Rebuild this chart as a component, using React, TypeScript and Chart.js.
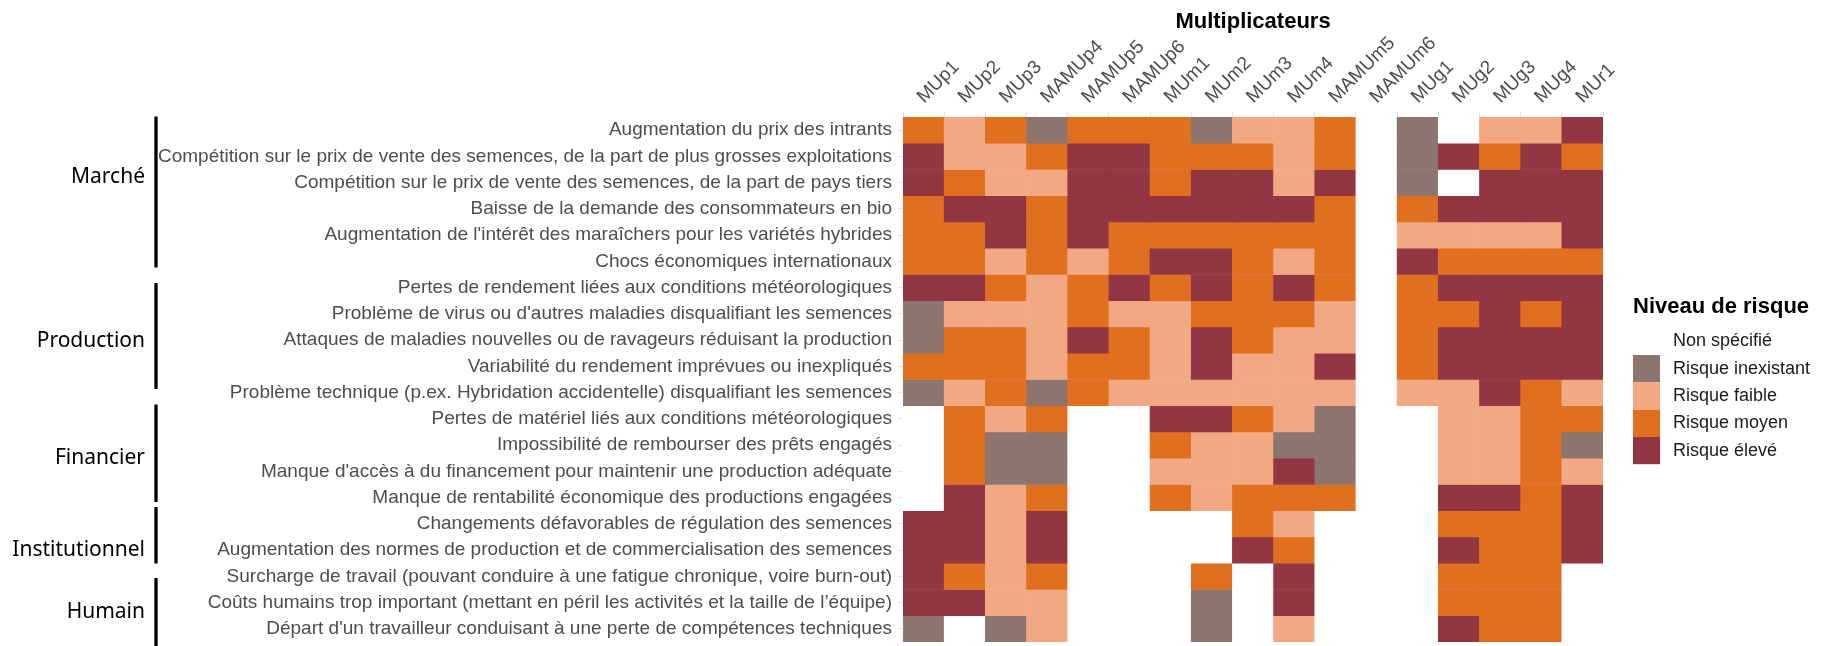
import React, { useEffect, useRef } from 'react';
import { Chart, registerables } from 'chart.js';

Chart.register(...registerables);

// ---------- DATA ----------
const columns = [
  'MUp1', 'MUp2', 'MUp3', 'MAMUp4', 'MAMUp5', 'MAMUp6',
  'MUm1', 'MUm2', 'MUm3', 'MUm4', 'MAMUm5', 'MAMUm6',
  'MUg1', 'MUg2', 'MUg3', 'MUg4', 'MUr1',
];

const riskRows = [
  'Augmentation du prix des intrants',
  'Compétition sur le prix de vente des semences, de la part de plus grosses exploitations',
  'Compétition sur le prix de vente des semences, de la part de pays tiers',
  'Baisse de la demande des consommateurs en bio',
  "Augmentation de l'intérêt des maraîchers pour les variétés hybrides",
  'Chocs économiques internationaux',
  'Pertes de rendement liées aux conditions météorologiques',
  "Problème de virus ou d'autres maladies disqualifiant les semences",
  'Attaques de maladies nouvelles ou de ravageurs réduisant la production',
  'Variabilité du rendement imprévues ou inexpliqués',
  'Problème technique (p.ex. Hybridation accidentelle) disqualifiant les semences',
  'Pertes de matériel liés aux conditions météorologiques',
  'Impossibilité de rembourser des prêts engagés',
  "Manque d'accès à du financement pour maintenir une production adéquate",
  'Manque de rentabilité économique des productions engagées',
  'Changements défavorables de régulation des semences',
  'Augmentation des normes de production et de commercialisation des semences',
  'Surcharge de travail (pouvant conduire à une fatigue chronique, voire burn-out)',
  'Coûts humains trop important (mettant en péril les activités et la taille de l’équipe)',
  "Départ d'un travailleur conduisant à une perte de compétences techniques",
];

const groupNames = ['Marché', 'Production', 'Financier', 'Institutionnel', 'Humain'];
const groupSizes = [6, 5, 4, 2, 3];

const axisTitle = 'Multiplicateurs';
const legendTitle = 'Niveau de risque';
const levelLabels = ['Non spécifié', 'Risque inexistant', 'Risque faible', 'Risque moyen', 'Risque élevé'];

// 0 = Non spécifié, 1 = inexistant, 2 = faible, 3 = moyen, 4 = élevé
const riskLevels: number[][] = [
  [3, 2, 3, 1, 3, 3, 3, 1, 2, 2, 3, 0, 1, 0, 2, 2, 4],
  [4, 2, 2, 3, 4, 4, 3, 3, 3, 2, 3, 0, 1, 4, 3, 4, 3],
  [4, 3, 2, 2, 4, 4, 3, 4, 4, 2, 4, 0, 1, 0, 4, 4, 4],
  [3, 4, 4, 3, 4, 4, 4, 4, 4, 4, 3, 0, 3, 4, 4, 4, 4],
  [3, 3, 4, 3, 4, 3, 3, 3, 3, 3, 3, 0, 2, 2, 2, 2, 4],
  [3, 3, 2, 3, 2, 3, 4, 4, 3, 2, 3, 0, 4, 3, 3, 3, 3],
  [4, 4, 3, 2, 3, 4, 3, 4, 3, 4, 3, 0, 3, 4, 4, 4, 4],
  [1, 2, 2, 2, 3, 2, 2, 3, 3, 3, 2, 0, 3, 3, 4, 3, 4],
  [1, 3, 3, 2, 4, 3, 2, 4, 3, 2, 2, 0, 3, 4, 4, 4, 4],
  [3, 3, 3, 2, 3, 3, 2, 4, 2, 2, 4, 0, 3, 4, 4, 4, 4],
  [1, 2, 3, 1, 3, 2, 2, 2, 2, 2, 2, 0, 2, 2, 4, 3, 2],
  [0, 3, 2, 3, 0, 0, 4, 4, 3, 2, 1, 0, 0, 2, 2, 3, 3],
  [0, 3, 1, 1, 0, 0, 3, 2, 2, 1, 1, 0, 0, 2, 2, 3, 1],
  [0, 3, 1, 1, 0, 0, 2, 2, 2, 4, 1, 0, 0, 2, 2, 3, 2],
  [0, 4, 2, 3, 0, 0, 3, 2, 3, 3, 3, 0, 0, 4, 4, 3, 4],
  [4, 4, 2, 4, 0, 0, 0, 0, 3, 2, 0, 0, 0, 3, 3, 3, 4],
  [4, 4, 2, 4, 0, 0, 0, 0, 4, 3, 0, 0, 0, 4, 3, 3, 4],
  [4, 3, 2, 3, 0, 0, 0, 3, 0, 4, 0, 0, 0, 3, 3, 3, 0],
  [4, 4, 2, 2, 0, 0, 0, 1, 0, 4, 0, 0, 0, 3, 3, 3, 0],
  [1, 0, 1, 2, 0, 0, 0, 1, 0, 2, 0, 0, 0, 4, 3, 3, 0],
];

// ---------- STYLE ----------
const levelColors = ['#FFFFFF', '#8C756E', '#F2A983', '#E06F1F', '#933643'];
const SANS = '"Liberation Sans", Arial, Helvetica, sans-serif';
const GROUP_FONT = '"Noto Sans", "Open Sans", sans-serif';
const W = 1821;
const H = 646;

const decor = {
  titleY: 22,
  groupTextRight: 145,
  groupLabelY: [177.5, 341, 458.5, 550, 612],
  barX: 156,
  barW: 3.3,
  bars: [[116.5, 267.5], [283, 389], [404.5, 502], [507, 563.5], [578, 646]],
  legendX: 1633,
  legendTitleY: 307,
  legendTop: 327.7,
  legendBoxW: 27,
  legendBoxH: 27.3,
  legendTextX: 1673,
};

const decorPlugin = {
  id: 'decor',
  afterDraw(chart: any) {
    const ctx = chart.ctx as CanvasRenderingContext2D;
    const area = chart.chartArea;
    ctx.save();
    // axis title
    ctx.fillStyle = '#000000';
    ctx.font = `bold 22px ${SANS}`;
    ctx.textAlign = 'center';
    ctx.textBaseline = 'middle';
    ctx.fillText(axisTitle, (area.left + area.right) / 2, decor.titleY);

    // group labels and bars (one per group of rows)
    ctx.font = `21px ${GROUP_FONT}`;
    ctx.textAlign = 'right';
    groupNames.forEach((name, i) => {
      if (!groupSizes[i]) return;
      ctx.fillStyle = '#000000';
      ctx.fillText(name, decor.groupTextRight, decor.groupLabelY[i]);
      const [y0, y1] = decor.bars[i];
      ctx.fillRect(decor.barX - decor.barW / 2, y0, decor.barW, y1 - y0);
    });

    // legend
    ctx.textAlign = 'left';
    ctx.font = `bold 22px ${SANS}`;
    ctx.fillStyle = '#000000';
    ctx.fillText(legendTitle, decor.legendX, decor.legendTitleY);
    ctx.font = `18px ${SANS}`;
    levelLabels.forEach((lab, i) => {
      const top = decor.legendTop + i * decor.legendBoxH;
      ctx.fillStyle = levelColors[i];
      ctx.fillRect(decor.legendX, top, decor.legendBoxW, decor.legendBoxH);
      ctx.fillStyle = '#1a1a1a';
      ctx.fillText(lab, decor.legendTextX, top + decor.legendBoxH / 2);
    });
    ctx.restore();
  },
};

export default function App() {
  const ref = useRef<HTMLCanvasElement>(null);

  useEffect(() => {
    const canvas = ref.current;
    if (!canvas) return;
    const datasets = riskRows.map((row, r) => ({
      label: row,
      data: columns.map(() => 1),
      backgroundColor: riskLevels[r].map((v) => levelColors[v]),
      borderWidth: 0,
      barPercentage: 1,
      categoryPercentage: 1,
      xAxisID: 'x',
      yAxisID: 'y',
      stack: 'grid',
    }));

    const chart = new Chart(canvas, {
      type: 'bar',
      data: { labels: columns, datasets },
      plugins: [decorPlugin],
      options: {
        responsive: false,
        animation: false,
        devicePixelRatio: 1,
        layout: { padding: { left: 0, top: 0, right: W - 1603, bottom: H - 642 } },
        plugins: {
          legend: { display: false },
          tooltip: { enabled: false },
          title: { display: false },
        },
        scales: {
          x: {
            type: 'category',
            position: 'top',
            offset: true,
            stacked: true,
            grid: { display: true, drawOnChartArea: false, tickLength: 5, color: '#e4e4e4' },
            border: { display: false },
            ticks: {
              color: '#4d4d4d',
              font: { family: SANS, size: 19 },
              minRotation: 45,
              maxRotation: 45,
              autoSkip: false,
              padding: 4,
              labelOffset: 13,
            },
            afterFit: (s: any) => {
              s.height = 117;
              s.paddingLeft = 0;
              s.paddingRight = 0;
            },
          },
          y: {
            type: 'linear',
            stacked: true,
            reverse: true,
            min: 0,
            max: riskRows.length,
            display: false,
          },
          yLabels: {
            type: 'category',
            axis: 'y',
            labels: riskRows,
            position: 'left',
            offset: true,
            grid: { display: true, drawOnChartArea: false, tickLength: 5, color: '#e4e4e4' },
            border: { display: false },
            ticks: {
              color: '#4d4d4d',
              font: { family: SANS, size: 19 },
              autoSkip: false,
              padding: 6,
            },
            afterFit: (s: any) => {
              s.width = 903;
              s.paddingTop = 0;
              s.paddingBottom = 0;
            },
          },
        },
      } as any,
    });

    return () => chart.destroy();
  }, []);

  return (
    <div style={{ position: 'absolute', left: 0, top: 0, width: W, height: H, background: '#ffffff' }}>
      <canvas ref={ref} width={W} height={H} style={{ width: W, height: H, display: 'block' }} />
    </div>
  );
}
